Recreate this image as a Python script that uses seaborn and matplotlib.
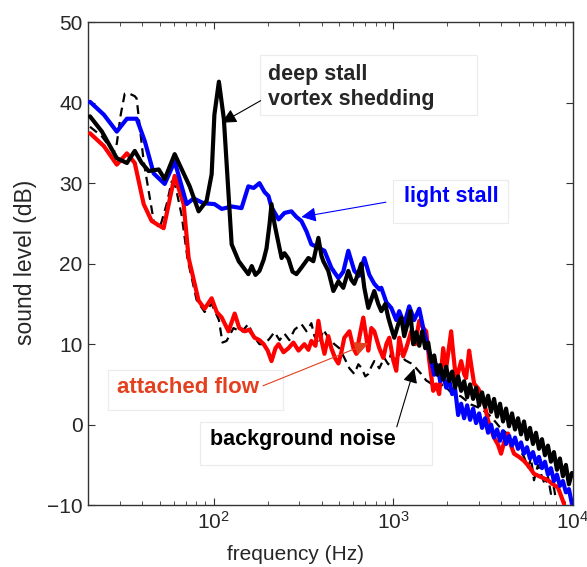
import numpy as np
import pandas as pd
import matplotlib
matplotlib.use('Agg')
import matplotlib.pyplot as plt
from matplotlib.patches import Rectangle
import seaborn as sns

sns.set_style('ticks')
plt.rcParams['font.family'] = ['Liberation Sans', 'DejaVu Sans']

# light stall (blue)
light_freq = [20.5, 24.5, 28.9, 32.9, 37.3, 41.4, 46.4, 53.4, 60.7, 70.8,
              77.4, 88.0, 101, 111, 126, 143, 156, 167, 180, 192,
              202, 210, 230, 248, 271, 289, 308, 329, 350, 383,
              414, 452, 495, 527, 562, 607, 647, 690, 736, 784,
              836, 858, 915, 975, 1039, 1080, 1151, 1227, 1308, 1395,
              1468, 1545,
              1626, 1690, 1756, 1825, 1896, 1970, 2047, 2127, 2210, 2297,
              2387, 2480, 2577, 2678, 2783, 2891, 3005, 3122, 3244, 3371,
              3503, 3640, 3782, 3930, 4084, 4244, 4410, 4582, 4761, 4948,
              5141, 5342, 5551, 5768, 5994, 6228, 6472, 6725, 6988, 7261,
              7545, 7840, 8147, 8466, 8797, 9141, 9499, 9870]
light_db = [40.1, 38.5, 36.4, 38.0, 38.0, 35.2, 31.2, 29.9, 32.7, 27.4,
            28.1, 27.5, 27.4, 26.8, 27.1, 26.9, 29.6, 29.4, 30.0, 28.9,
            28.4, 27.0, 25.5, 26.3, 26.5, 25.8, 25.3, 24.0, 22.4, 22.0,
            21.6, 19.5, 18.2, 19.0, 21.6, 19.1, 18.5, 20.7, 18.6, 17.5,
            16.8, 17.0, 15.2, 14.5, 13.0, 14.1, 12.5, 14.7, 13.0, 14.4,
            12.0, 10.0,
            7.9, 6.2, 7.4, 5.4, 6.4, 4.6, 5.6, 3.8, 4.4, 1.2,
            2.6, 0.8, 2.4, 0.6, 2.0, 0.2, 1.4, -0.4, 0.8, -1.0,
            0.0, -1.6, -0.6, -2.0, -0.8, -2.4, -1.4, -2.6, -1.6, -3.0,
            -2.2, -3.6, -2.8, -4.2, -3.4, -4.8, -4.0, -5.4, -4.6, -6.2,
            -5.4, -7.0, -6.2, -7.6, -7.0, -8.4, -8.0, -9.8]

# deep stall (black solid)
deep_freq = [20.5, 23.9, 28.9, 32.9, 36.4, 39.8, 43.5, 49.5, 53.4, 60.7,
             68.1, 73.6, 82.5, 91.4, 97.5, 101, 107, 114, 120, 126,
             138, 156, 163, 171, 180, 190, 197, 205, 210, 218,
             224, 239, 248, 261, 275, 289, 308, 337, 359, 383,
             398, 408, 435, 464, 495, 527, 562, 584, 607, 631,
             664, 690, 726, 784, 825, 858, 903, 938, 975, 1013,
             1066,
             1108, 1151, 1196, 1243, 1292, 1342, 1395, 1449, 1506, 1565,
             1626, 1690, 1756, 1825, 1896, 1970, 2047, 2127, 2210, 2297,
             2387, 2480, 2577, 2678, 2783, 2891, 3005, 3122, 3244, 3371,
             3503, 3640, 3782, 3930, 4084, 4244, 4410, 4582, 4761, 4948,
             5141, 5342, 5551, 5768, 5994, 6228, 6472, 6725, 6988, 7261,
             7545, 7840, 8147, 8466, 8797, 9141, 9499, 9870]
deep_db = [38.3, 36.4, 33.1, 32.5, 34.0, 32.5, 31.5, 31.7, 30.5, 33.6,
           31.2, 29.6, 26.5, 27.8, 31.1, 38.5, 42.6, 38.0, 30.0, 22.4,
           20.3, 18.7, 19.7, 18.6, 19.1, 20.5, 21.9, 25.0, 27.4, 25.0,
           23.7, 20.7, 21.3, 20.6, 19.0, 18.7, 19.5, 20.7, 20.3, 23.2,
           21.0, 20.3, 19.1, 16.6, 17.8, 17.0, 19.1, 18.0, 17.5, 18.5,
           20.0, 17.0, 14.5, 16.6, 15.0, 14.1, 15.0, 13.3, 12.0, 10.8,
           12.5,
           13.3, 11.0, 12.4, 14.1, 10.0, 11.5, 9.8, 11.6, 9.5, 10.2,
           7.8, 8.6, 6.2, 7.4, 5.6, 7.2, 5.4, 6.6, 4.6, 6.0,
           4.2, 5.4, 3.4, 5.0, 3.2, 4.6, 2.4, 4.0, 2.2, 3.6,
           1.6, 3.2, 1.0, 2.6, 0.4, 2.0, -0.2, 1.4, -0.6, 0.8,
           -1.2, 0.4, -1.8, -0.4, -2.4, -1.0, -3.0, -1.8, -3.8, -2.6,
           -4.6, -3.4, -5.6, -4.2, -6.4, -5.0, -7.4, -6.0]

# attached flow (red)
att_freq = [20.5, 24.5, 28.9, 32.9, 36.4, 40.8, 45.2, 52.7, 60.7, 68.1,
            72.6, 82.5, 89.1, 97.5, 104, 111, 121, 131, 139, 149,
            158, 169, 180, 190, 200, 210, 221, 230, 245, 261,
            278, 297, 320, 337, 350, 369, 383, 398, 414, 435,
            452, 476, 495, 514, 534, 570, 600, 623, 656, 681,
            708, 726, 755, 784, 836, 880, 915, 950, 1000, 1039,
            1080, 1136, 1181, 1259, 1326, 1395, 1468, 1525, 1585, 1668,
            1733, 1801, 1896, 1970, 2100, 2154, 2239, 2387, 2480, 2544,
            2644, 2712, 2818, 2967, 3083, 3245, 3372, 3503, 3640, 3831,
            3981, 4137, 4354, 4524, 4702, 5012, 5343, 5695, 6072, 6640,
            7263, 7743, 8254, 8577, 8913]
att_db = [36.2, 34.6, 32.3, 33.7, 32.5, 27.4, 25.3, 24.4, 30.9, 27.4,
          20.7, 15.4, 14.4, 15.7, 14.0, 13.3, 11.6, 13.8, 12.0, 11.6,
          11.8, 10.8, 10.5, 10.0, 9.2, 7.9, 9.5, 10.0, 9.0, 9.5,
          10.2, 9.2, 10.0, 9.3, 10.4, 9.8, 12.9, 10.5, 8.8, 11.0,
          9.5, 8.2, 7.6, 9.0, 10.8, 11.6, 9.5, 8.8, 11.5, 13.3,
          10.8, 9.2, 12.0, 11.6, 9.5, 8.3, 10.0, 10.8, 8.0, 6.7,
          10.8, 8.5, 9.5, 11.6, 10.0, 12.9, 12.0, 11.6, 8.0, 4.2,
          5.0, 3.8, 9.5, 7.0, 11.6, 9.0, 5.5, 7.9, 6.3, 5.8,
          9.2, 7.5, 5.1, 4.5, 3.8, 2.2, 0.5, -0.6, -1.6, -2.5,
          -3.6, -2.2, -1.1, -2.6, -3.6, -4.0, -4.5, -5.2, -6.1, -6.5,
          -6.9, -7.4, -7.8, -8.8, -9.8]

# background noise (black dashed)
bg_freq = [20.5, 23.9, 27.8, 28.9, 30.4, 32.0, 34.1, 36.4, 37.3, 38.8,
           40.8, 43.5, 46.4, 50.1, 54.8, 58.4, 61.5, 66.4, 71.7, 80.4,
           89.1, 97.5, 107, 112, 118, 129, 143, 156, 167, 180,
           192, 205, 218, 233, 248, 264, 282, 308, 329, 350,
           364, 388, 408, 435, 470, 501, 534, 570, 607, 639,
           664, 699, 726, 755, 784, 836, 891, 938, 975, 1026,
           1080, 1166, 1259, 1343, 1431, 1525, 1626, 1756, 1896, 2100,
           2387, 2712, 3083, 3503, 3981, 4524, 5012, 5343, 5623, 5843,
           6072, 6391, 6640, 6990, 7263, 7548, 7843, 8045]
bg_db = [37.0, 35.8, 33.8, 34.9, 38.5, 41.1, 41.1, 40.8, 40.5, 37.0,
         32.7, 29.0, 25.3, 24.4, 27.4, 30.2, 29.5, 26.0, 20.5, 15.5,
         14.0, 15.0, 13.0, 10.2, 10.4, 12.0, 11.5, 12.5, 11.0, 10.0,
         10.0, 10.7, 11.5, 10.5, 11.3, 10.5, 11.8, 12.5, 11.6, 12.6,
         11.0, 10.0, 11.8, 10.8, 10.0, 9.5, 8.3, 7.0, 6.3, 7.5,
         7.1, 6.0, 6.3, 7.2, 7.9, 7.0, 8.3, 7.5, 9.0, 8.0,
         8.8, 8.0, 7.6, 7.0, 6.3, 5.5, 5.1, 4.5, 5.0, 4.0,
         3.5, 2.5, 2.0, 1.0, -0.5, -1.5, -3.0, -4.0, -5.3, -4.2,
         -6.9, -5.0, -6.1, -7.5, -6.5, -8.6, -7.8, -9.4]

yticks = [-10, 0, 10, 20, 30, 40, 50]

fig = plt.figure(figsize=(5.87, 5.67), dpi=100)
ax = fig.add_axes([0.150, 0.109, 0.826, 0.852])

sns.lineplot(x=bg_freq, y=bg_db, ax=ax, color='black', lw=1.6,
             linestyle=(0, (4, 2.5)), estimator=None, zorder=2)
sns.lineplot(x=att_freq, y=att_db, ax=ax, color='#ff0000', lw=3.0,
             estimator=None, zorder=3)
sns.lineplot(x=light_freq, y=light_db, ax=ax, color='#0000ff', lw=3.0,
             estimator=None, zorder=4)
sns.lineplot(x=deep_freq, y=deep_db, ax=ax, color='black', lw=3.0,
             estimator=None, zorder=5)

ax.set_xscale('log')
ax.set_xlim(20, 10000)
ax.set_ylim(-10, 50)
ax.set_yticks(yticks)
ax.tick_params(which='both', direction='in', top=True, right=True,
               labelsize=15, pad=4, color='#333333')
ax.tick_params(which='major', length=5)
ax.tick_params(which='minor', length=3)
for s in ax.spines.values():
    s.set_color('#333333')
    s.set_linewidth(1.0)
    s.set_visible(True)

ax.set_xlabel('frequency (Hz)', fontsize=15)
ax.set_ylabel('sound level (dB)', fontsize=16.5)
ax.xaxis.set_label_coords(0.427, -0.083)
ax.yaxis.set_label_coords(-0.105, 0.503)

# light grey text boxes (axes fraction)
for bx, by, bw, bh in [(0.355, 0.807, 0.447, 0.124),
                       (0.629, 0.584, 0.237, 0.089),
                       (0.041, 0.197, 0.361, 0.083),
                       (0.231, 0.083, 0.478, 0.089)]:
    ax.add_patch(Rectangle((bx, by), bw, bh, transform=ax.transAxes,
                           fc='white', ec='#ebebeb', lw=0.8, zorder=6))

arrow = dict(arrowstyle='-|>', lw=0.8, mutation_scale=22, patchA=None,
             shrinkB=0)

ax.annotate('deep stall\nvortex shedding', xy=(111, 37.5),
            xytext=(0.371, 0.865), textcoords='axes fraction',
            ha='left', va='center', fontsize=15.5, fontweight='bold',
            linespacing=1.25, zorder=7,
            arrowprops=dict(arrow, color='black', relpos=(0, 0.3),
                            shrinkA=6))

ax.annotate('light stall', xy=(308, 25.8),
            xytext=(0.651, 0.638), textcoords='axes fraction',
            ha='left', va='center', fontsize=15.5, fontweight='bold',
            color='#0000ff', zorder=7,
            arrowprops=dict(arrow, color='#0000ff', relpos=(0, 0.4),
                            shrinkA=13))

ax.annotate('attached flow', xy=(727, 10.1),
            xytext=(0.060, 0.244), textcoords='axes fraction',
            ha='left', va='center', fontsize=16, fontweight='bold',
            color='#e2401e', zorder=7,
            arrowprops=dict(arrow, color='#e2401e', relpos=(1, 0.5),
                            shrinkA=3))

ax.annotate('background noise', xy=(1309, 7.0),
            xytext=(0.252, 0.135), textcoords='axes fraction',
            ha='left', va='center', fontsize=15.5, fontweight='bold',
            color='black', zorder=7,
            arrowprops=dict(arrow, color='black', relpos=(1, 1),
                            shrinkA=2))

fig.savefig('out.png', dpi=100)
